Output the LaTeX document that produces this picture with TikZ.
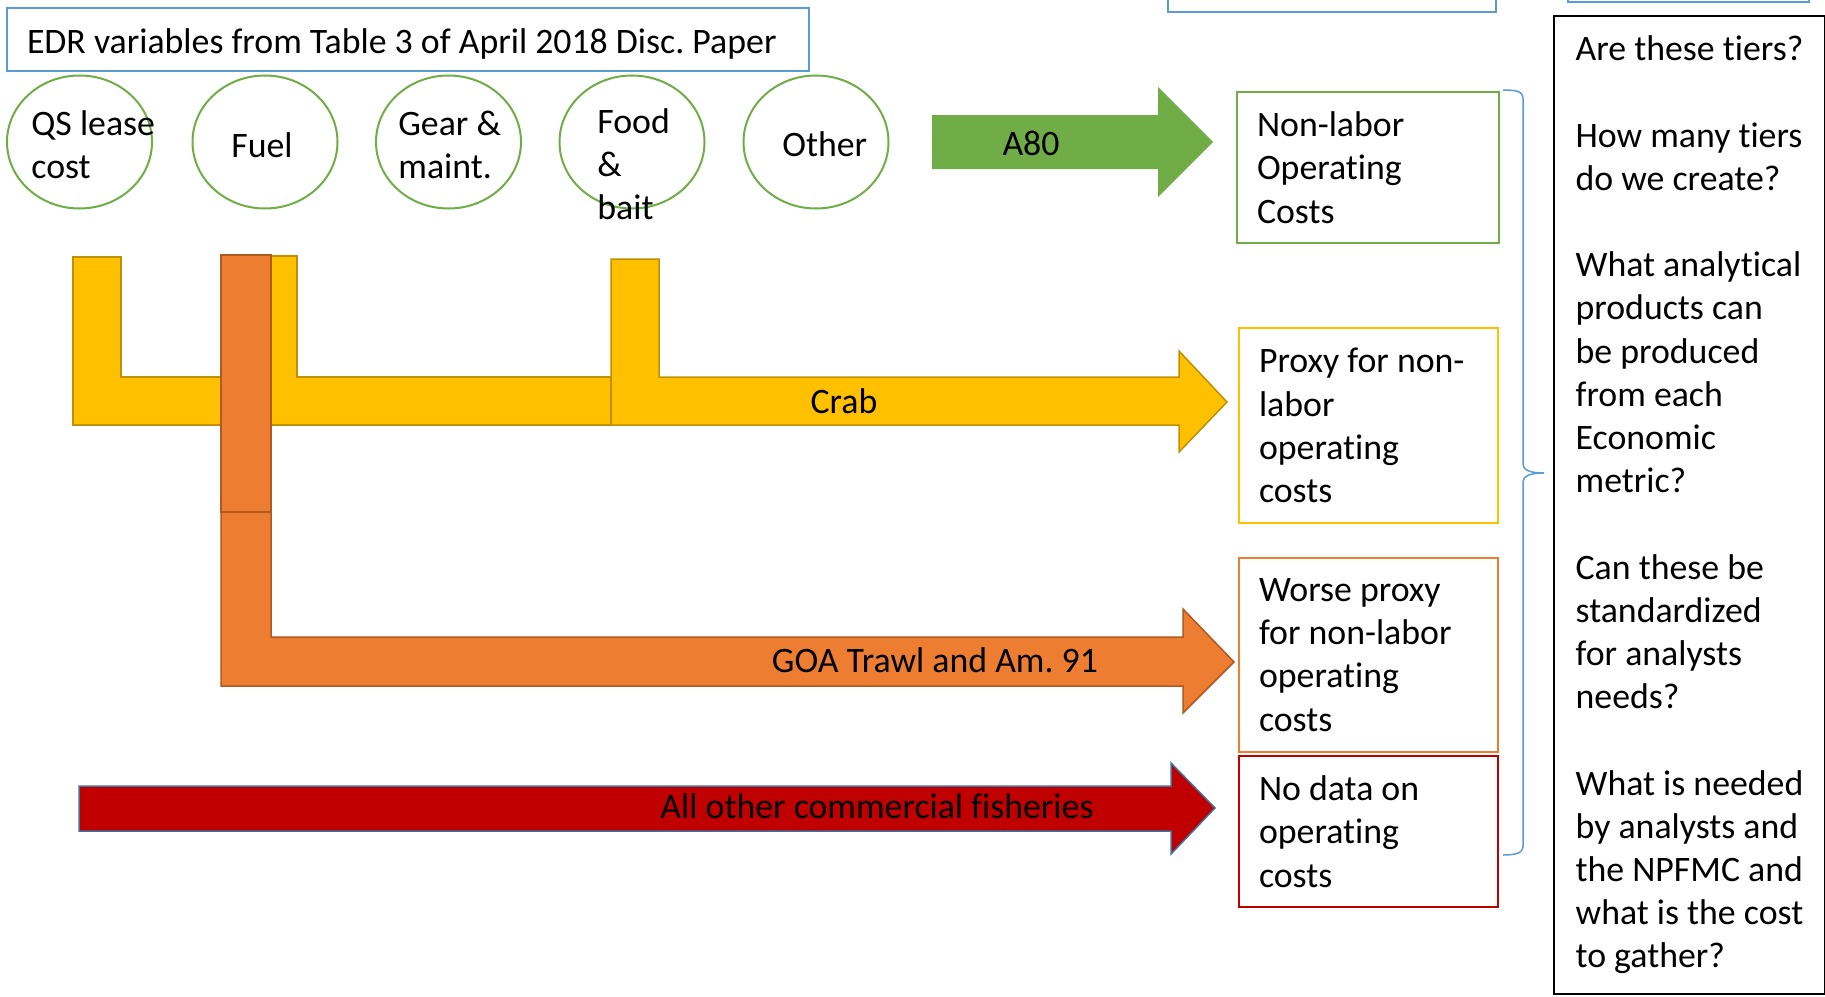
\documentclass[tikz,border=0pt]{standalone}
\usepackage{fontspec}
\setmainfont[Ligatures=NoCommon]{Carlito}
\usetikzlibrary{shapes.geometric}

\definecolor{edrblue}{HTML}{5B9BD5}
\definecolor{edrgreen}{HTML}{70AD47}
\definecolor{crabfill}{HTML}{FFC000}
\definecolor{crabline}{HTML}{BF9000}
\definecolor{goafill}{HTML}{ED7D31}
\definecolor{goaline}{HTML}{AE5A21}
\definecolor{otherfill}{HTML}{C00000}
\definecolor{otherline}{HTML}{41719C}

\tikzset{
  var/.style={ellipse, draw=edrgreen, line width=1pt, minimum width=72.5pt, minimum height=66.5pt, inner sep=0pt},
  vartext/.style={anchor=base west, inner sep=0pt, text width=80pt, align=flush left},
  tier/.style={draw=#1, line width=1pt, anchor=north west, inner xsep=10pt, inner ysep=0pt, text width=109.5pt, align=flush left},
  flow/.style={line width=0.75pt, line join=miter},
}

\begin{document}
\frenchspacing
\begin{tikzpicture}[x=0.5pt, y=-0.5pt, font=\fontsize{17.9pt}{21.6pt}\selectfont]
\useasboundingbox (0,0) rectangle (1825,996);

% boxes cut off at the top
\draw[edrblue, line width=1pt] (1168,-20) rectangle (1496,12);
\draw[edrblue, line width=1pt] (1568,-20) rectangle (1809,2);

\node[draw=edrblue, line width=1pt, anchor=north west, inner xsep=10pt, inner ysep=0pt,
      text height=22.5pt, text depth=9pt, text width=381pt, align=flush left]
  (title) at (6,7) {\mbox{EDR variables from Table 3 of April 2018 Disc. Paper}};

% EDR cost variables
\node[var] (qs)    at (79.5,142) {};
\node[var] (fuel)  at (265,142) {};
\node[var] (gear)  at (448.5,142) {};
\node[var] (food)  at (632,142) {};
\node[var] (other) at (816,142) {};
\node[vartext] (qs-text)    at (31,135)  {QS lease\\cost};
\node[vartext] (fuel-text)  at (231,157) {Fuel};
\node[vartext] (gear-text)  at (398,135) {Gear \&\\maint.};
\node[vartext] (food-text)  at (597,133) {Food\\\&\\bait};
\node[vartext] (other-text) at (782,156) {Other};

% crab: three feeders into one arrow
\draw[flow, fill=crabfill, draw=crabline]
       (73,257)
  -- ++(48,0)
  -- ++(0,120)
  -- ++(128,0)
  -- ++(0,-121)
  -- ++(48,0)
  -- ++(0,121)
  -- (611,377)
  -- ++(0,48)
  -- (73,425)
  -- cycle;
\draw[flow, fill=crabfill, draw=crabline]
       (611,259)
  -- ++(48,0)
  -- ++(0,118)
  -- (1179,377)
  -- ++(0,-26)
  -- (1227,402)
  -- (1179,452)
  -- ++(0,-27)
  -- (611,425)
  -- cycle;

% GOA trawl: fuel only
\draw[flow, fill=goafill, draw=goaline] (221,255) rectangle (271,512);
\draw[flow, fill=goafill, draw=goaline]
       (221,512)
  -- ++(50,0)
  -- ++(0,125)
  -- (1183,637)
  -- ++(0,-28)
  -- (1234,662)
  -- (1183,713)
  -- ++(0,-27)
  -- (221,686)
  -- cycle;

% A80
\fill[edrgreen]
       (932,115)
  -- (1158,115)
  -- ++(0,-28)
  -- (1213,142)
  -- (1158,197)
  -- ++(0,-28)
  -- (932,169)
  -- cycle;

% no cost data
\draw[flow, fill=otherfill, draw=otherline]
       (79,786)
  -- (1171,786)
  -- ++(0,-23)
  -- (1215,808)
  -- (1171,854)
  -- ++(0,-23)
  -- (79,831)
  -- cycle;

\node[anchor=base] (a80)       at (1031,155) {A80};
\node[anchor=base] (crab)      at (844,413)  {Crab};
\node[anchor=base] (goa)       at (935,672)  {GOA Trawl and Am. 91};
\node[anchor=base] (fisheries) at (877,818)  {All other commercial fisheries};

% tiers
\node[tier=edrgreen, text width=111pt, minimum height=75.5pt]
  (nonlabor) at (1236,91) {Non-labor\\Operating\\Costs};
\node[tier=crabfill, minimum height=97.5pt]
  (proxy) at (1238,327) {Proxy for non-\\labor\\operating\\costs};
\node[tier=goafill, minimum height=97pt]
  (worse) at (1238,557) {Worse proxy\\for non-labor\\operating\\costs};
\node[tier=otherfill, minimum height=75.5pt]
  (nodata) at (1238,755) {No data on\\operating\\costs};

\draw[edrblue, line width=0.75pt]
     (1503,90) .. controls (1516,90) and (1523,91) .. (1523,99)
  -- (1523,464) .. controls (1523,470) and (1530,473) .. (1544,473)
  .. controls (1530,473) and (1523,476) .. (1523,482)
  -- (1523,846) .. controls (1523,853) and (1516,855) .. (1503,855);

\node[draw, line width=1pt, anchor=north west, minimum width=135.5pt,
      minimum height=489pt, inner sep=0pt, align=left]
  (questions) at (1553,15)
  {Are these tiers?\\[21.6pt]
   How many tiers\\do we create?\\[21.6pt]
   What analytical\\products can\\be produced\\from each\\Economic\\metric?\\[21.6pt]
   Can these be\\standardized\\for analysts\\needs?\\[21.6pt]
   What is needed\\by analysts and\\the NPFMC and\\what is the cost\\to gather?};
\end{tikzpicture}
\end{document}
